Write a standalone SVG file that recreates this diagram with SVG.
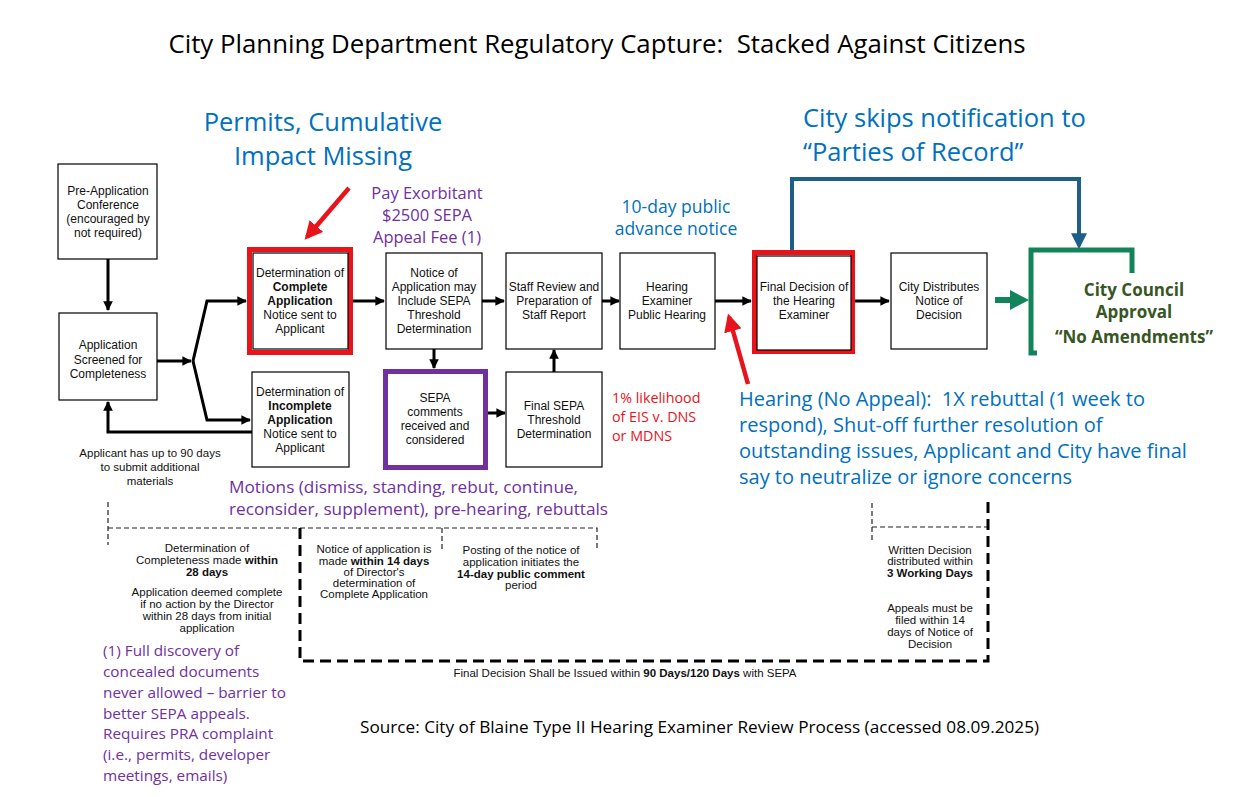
<svg xmlns="http://www.w3.org/2000/svg" width="1236" height="797" viewBox="0 0 1236 797">
<defs>
<marker id="ah" viewBox="0 0 10 10" refX="9" refY="5" markerWidth="3.4" markerHeight="3.2" orient="auto"><path d="M0,0 L10,5 L0,10 z" fill="#000"/></marker>
<marker id="ahr" viewBox="0 0 10 10" refX="8" refY="5" markerWidth="4" markerHeight="4" orient="auto"><path d="M0,0 L10,5 L0,10 z" fill="#E8141B"/></marker>
<marker id="ahb" viewBox="0 0 10 10" refX="8" refY="5" markerWidth="4" markerHeight="4" orient="auto"><path d="M0,0 L10,5 L0,10 z" fill="#1E5F8A"/></marker>
<style>
.bx{fill:#fff;stroke:#000;stroke-width:1.2}
.bt{font-family:"Liberation Sans",Arial,sans-serif;font-size:12px;fill:#111;text-anchor:middle}
.st{font-family:"Liberation Sans",Arial,sans-serif;font-size:11.5px;fill:#111;text-anchor:middle}
.b{font-weight:bold}
.an{font-family:"Open Sans","Noto Sans",sans-serif}
.blue{fill:#0070C0}
.pur{fill:#7030A0}
.red{fill:#E8141B}
.cn{fill:none;stroke:#000;stroke-width:3}
.thin{fill:none;stroke:#222;stroke-width:1.2;stroke-dasharray:5 3}
.thick{fill:none;stroke:#000;stroke-width:3;stroke-dasharray:11 6}
</style>
</defs>
<rect width="1236" height="797" fill="#fff"/>

<text x="597" y="53" class="an" font-size="25.8" fill="#000" text-anchor="middle" xml:space="preserve">City Planning Department Regulatory Capture:  Stacked Against Citizens</text>

<g id="connectors">
<path class="cn" d="M108,259 L108,310" marker-end="url(#ah)"/>
<path class="cn" d="M157,361 L191,361" marker-end="url(#ah)"/>
<path class="cn" d="M193,361 L207,301 L246,301" marker-end="url(#ah)"/>
<path class="cn" d="M193,361 L207,420 L250,420" marker-end="url(#ah)"/>
<path class="cn" d="M253,432 L108,432 L108,402" marker-end="url(#ah)"/>
<path class="cn" d="M353,301 L384,301" marker-end="url(#ah)"/>
<path class="cn" d="M482,301 L504,301" marker-end="url(#ah)"/>
<path class="cn" d="M434,349 L434,368" marker-end="url(#ah)"/>
<path class="cn" d="M488,413 L505,413" marker-end="url(#ah)"/>
<path class="cn" d="M554,372 L554,350" marker-end="url(#ah)"/>
<path class="cn" d="M602,301 L619,301" marker-end="url(#ah)"/>
<path class="cn" d="M715,301 L751,301" marker-end="url(#ah)"/>
<path class="cn" d="M855,301 L889,301" marker-end="url(#ah)"/>
<path d="M995,300 L1011,300" stroke="#12835A" stroke-width="6" fill="none"/>
<path d="M1010,290 L1029,300 L1010,310 z" fill="#12835A"/>
<path d="M792,257 L792,179 L1079,179 L1079,246" fill="none" stroke="#1E5F8A" stroke-width="4" marker-end="url(#ahb)"/>
<path d="M349,188 L307,237" fill="none" stroke="#E8141B" stroke-width="4.5" marker-end="url(#ahr)"/>
<path d="M748,384 L729,317" fill="none" stroke="#E8141B" stroke-width="4.5" marker-end="url(#ahr)"/>
</g>

<g id="pre-application">
<rect class="bx" x="58" y="164" width="99" height="95"/>
<text class="bt" x="108" y="195">Pre-Application</text>
<text class="bt" x="108" y="209">Conference</text>
<text class="bt" x="108" y="223">(encouraged by</text>
<text class="bt" x="108" y="237">not required)</text>
</g>

<g id="application-screened">
<rect class="bx" x="59" y="313" width="98" height="87"/>
<text class="bt" x="108" y="349">Application</text>
<text class="bt" x="108" y="364">Screened for</text>
<text class="bt" x="108" y="378">Completeness</text>
</g>

<g id="complete-application">
<rect x="249.5" y="249.5" width="101" height="103" fill="#fff" stroke="#E8141B" stroke-width="5"/>
<rect class="bx" x="253" y="253" width="95" height="96"/>
<text class="bt" x="300" y="277">Determination of</text>
<text class="bt b" x="300" y="291">Complete</text>
<text class="bt b" x="300" y="305">Application</text>
<text class="bt" x="300" y="319">Notice sent to</text>
<text class="bt" x="300" y="333">Applicant</text>
</g>

<g id="incomplete-application">
<rect class="bx" x="252" y="372" width="97" height="95"/>
<text class="bt" x="300" y="396">Determination of</text>
<text class="bt b" x="300" y="410">Incomplete</text>
<text class="bt b" x="300" y="424">Application</text>
<text class="bt" x="300" y="438">Notice sent to</text>
<text class="bt" x="300" y="452">Applicant</text>
</g>

<g id="notice-of-application">
<rect class="bx" x="386" y="253" width="96" height="96"/>
<text class="bt" x="434" y="277">Notice of</text>
<text class="bt" x="434" y="291">Application may</text>
<text class="bt" x="434" y="305">Include SEPA</text>
<text class="bt" x="434" y="319">Threshold</text>
<text class="bt" x="434" y="333">Determination</text>
</g>

<g id="sepa-comments">
<rect x="385.5" y="371.5" width="100" height="96" fill="#fff" stroke="#7030A0" stroke-width="5"/>
<text class="bt" x="435" y="402">SEPA</text>
<text class="bt" x="435" y="416">comments</text>
<text class="bt" x="435" y="430">received and</text>
<text class="bt" x="435" y="444">considered</text>
</g>

<g id="staff-review">
<rect class="bx" x="506" y="253" width="96" height="96"/>
<text class="bt" x="554" y="291">Staff Review and</text>
<text class="bt" x="554" y="305">Preparation of</text>
<text class="bt" x="554" y="319">Staff Report</text>
</g>

<g id="final-sepa">
<rect class="bx" x="506" y="372" width="96" height="95"/>
<text class="bt" x="554" y="410">Final SEPA</text>
<text class="bt" x="554" y="424">Threshold</text>
<text class="bt" x="554" y="438">Determination</text>
</g>

<g id="hearing-examiner">
<rect class="bx" x="620" y="253" width="95" height="96"/>
<text class="bt" x="667" y="291">Hearing</text>
<text class="bt" x="667" y="305">Examiner</text>
<text class="bt" x="667" y="319">Public Hearing</text>
</g>

<g id="final-decision">
<rect x="754.5" y="252.5" width="98" height="99" fill="#fff" stroke="#E8141B" stroke-width="5"/>
<rect class="bx" x="757" y="256" width="94" height="94"/>
<text class="bt" x="804" y="291">Final Decision of</text>
<text class="bt" x="804" y="305">the Hearing</text>
<text class="bt" x="804" y="319">Examiner</text>
</g>

<g id="city-distributes">
<rect class="bx" x="891" y="253" width="96" height="96"/>
<text class="bt" x="939" y="291">City Distributes</text>
<text class="bt" x="939" y="305">Notice of</text>
<text class="bt" x="939" y="319">Decision</text>
</g>

<g id="city-council">
<path d="M1037,353 L1031,353 L1031,250 L1132,250 L1132,273" fill="none" stroke="#12835A" stroke-width="5"/>
<text class="an b" x="1134" y="296" font-size="17" fill="#375623" text-anchor="middle">City Council</text>
<text class="an b" x="1134" y="318" font-size="17" fill="#375623" text-anchor="middle">Approval</text>
<text class="an b" x="1134" y="343" font-size="17" fill="#375623" text-anchor="middle">“No Amendments”</text>
</g>

<g id="annotations">
<text class="an blue" x="323" y="131" font-size="25.5" text-anchor="middle">Permits, Cumulative</text>
<text class="an blue" x="323" y="165" font-size="25.5" text-anchor="middle">Impact Missing</text>
<text class="an pur" x="427" y="199" font-size="16.5" text-anchor="middle">Pay Exorbitant</text>
<text class="an pur" x="427" y="221" font-size="16.5" text-anchor="middle">$2500 SEPA</text>
<text class="an pur" x="427" y="243" font-size="16.5" text-anchor="middle">Appeal Fee (1)</text>
<text class="an blue" x="676" y="213" font-size="17.5" text-anchor="middle">10-day public</text>
<text class="an blue" x="676" y="235" font-size="17.5" text-anchor="middle">advance notice</text>
<text class="an blue" x="803" y="127" font-size="25.5">City skips notification to</text>
<text class="an blue" x="803" y="161" font-size="25.5">“Parties of Record”</text>
<text class="an red" x="612" y="403" font-size="14.3">1% likelihood</text>
<text class="an red" x="612" y="422" font-size="14.3">of EIS v. DNS</text>
<text class="an red" x="612" y="441" font-size="14.3">or MDNS</text>
<text class="an blue" x="739" y="406" font-size="20" xml:space="preserve">Hearing (No Appeal):  1X rebuttal (1 week to</text>
<text class="an blue" x="739" y="432" font-size="20">respond), Shut-off further resolution of</text>
<text class="an blue" x="739" y="458" font-size="20">outstanding issues, Applicant and City have final</text>
<text class="an blue" x="739" y="484" font-size="20">say to neutralize or ignore concerns</text>
<text class="st" x="150" y="457">Applicant has up to 90 days</text>
<text class="st" x="150" y="471">to submit additional</text>
<text class="st" x="150" y="485">materials</text>
<text class="an pur" x="229" y="493" font-size="17.2">Motions (dismiss, standing, rebut, continue,</text>
<text class="an pur" x="229" y="515" font-size="17.2">reconsider, supplement), pre-hearing, rebuttals</text>
<text class="an pur" x="103" y="656" font-size="15.3">(1) Full discovery of</text>
<text class="an pur" x="103" y="677" font-size="15.3">concealed documents</text>
<text class="an pur" x="103" y="698" font-size="15.3">never allowed – barrier to</text>
<text class="an pur" x="103" y="719" font-size="15.3">better SEPA appeals.</text>
<text class="an pur" x="103" y="739" font-size="15.3">Requires PRA complaint</text>
<text class="an pur" x="103" y="760" font-size="15.3">(i.e., permits, developer</text>
<text class="an pur" x="103" y="781" font-size="15.3">meetings, emails)</text>
<text class="an" x="360" y="733" font-size="17.2" fill="#000">Source: City of Blaine Type II Hearing Examiner Review Process (accessed 08.09.2025)</text>
</g>

<g id="timeline">
<path class="thin" d="M108,502 L108,545"/>
<path class="thin" d="M108,528 L597,528 L597,548"/>
<path class="thin" d="M442,528 L442,549"/>
<path class="thin" d="M872,503 L872,543"/>
<path class="thin" d="M872,527 L988,527"/>
<path class="thick" d="M300,528 L300,661 L988,661 L988,497"/>
<text class="st" x="207" y="552">Determination of</text>
<text class="st" x="207" y="564">Completeness made <tspan class="b">within</tspan></text>
<text class="st b" x="207" y="576">28 days</text>
<text class="st" x="207" y="596">Application deemed complete</text>
<text class="st" x="207" y="608">if no action by the Director</text>
<text class="st" x="207" y="620">within 28 days from initial</text>
<text class="st" x="207" y="632">application</text>
<text class="st" x="374" y="553">Notice of application is</text>
<text class="st" x="374" y="565">made <tspan class="b">within 14 days</tspan></text>
<text class="st" x="374" y="576">of Director's</text>
<text class="st" x="374" y="587">determination of</text>
<text class="st" x="374" y="598">Complete Application</text>
<text class="st" x="521" y="554">Posting of the notice of</text>
<text class="st" x="521" y="566">application initiates the</text>
<text class="st b" x="521" y="578">14-day public comment</text>
<text class="st" x="521" y="589">period</text>
<text class="st" x="930" y="554">Written Decision</text>
<text class="st" x="930" y="565">distributed within</text>
<text class="st b" x="930" y="577">3 Working Days</text>
<text class="st" x="930" y="612">Appeals must be</text>
<text class="st" x="930" y="624">filed within 14</text>
<text class="st" x="930" y="636">days of Notice of</text>
<text class="st" x="930" y="648">Decision</text>
<text class="st" x="625" y="677">Final Decision Shall be Issued within <tspan class="b">90 Days/120 Days</tspan> with SEPA</text>
</g>
</svg>
